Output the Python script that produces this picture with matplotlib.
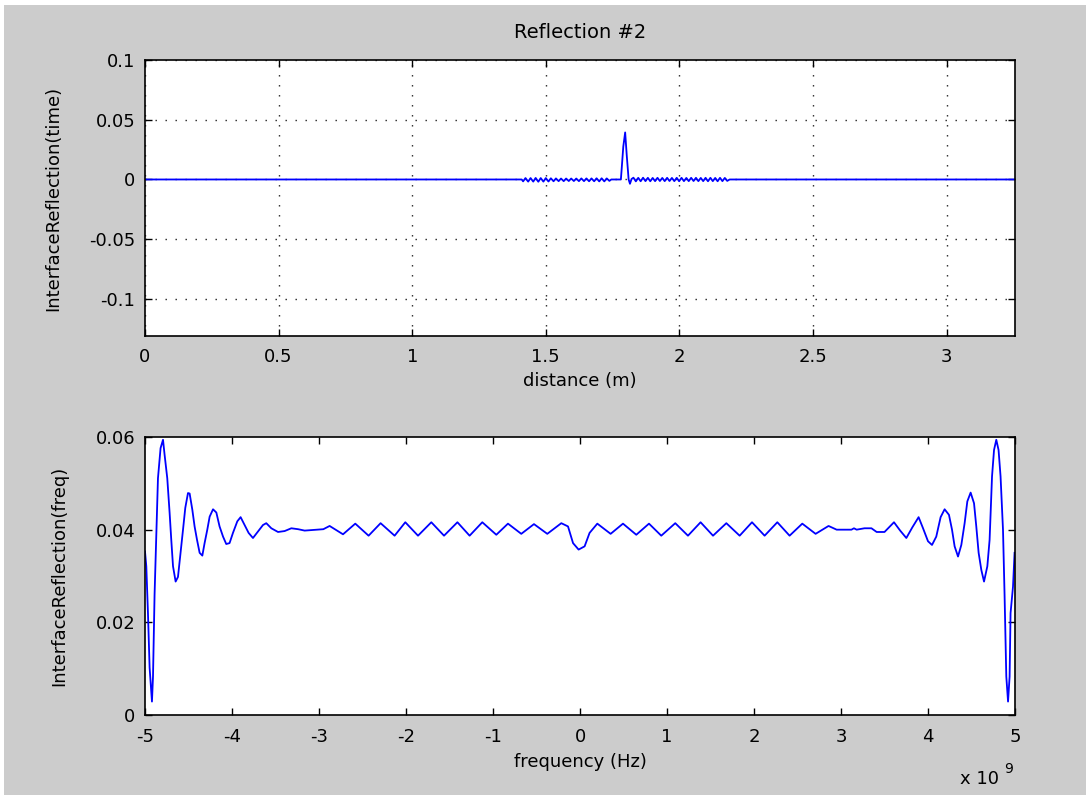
import matplotlib.pyplot as plt
from matplotlib.patches import Rectangle
from matplotlib.ticker import FixedLocator, FixedFormatter

plt.rcParams["font.family"] = "DejaVu Sans"
plt.rcParams["axes.unicode_minus"] = False

# =========================
# time-domain reflection (distance in m)
# =========================
flat_start = [0.000, 1.410]

osc_left_dist = [1.415, 1.424, 1.434, 1.443, 1.453, 1.462, 1.472, 1.481, 1.491,
                 1.500, 1.510, 1.519, 1.529, 1.538, 1.548, 1.557, 1.567, 1.576,
                 1.586, 1.595, 1.605, 1.614, 1.624, 1.633, 1.643, 1.652, 1.662,
                 1.671, 1.681, 1.690, 1.700, 1.709, 1.719, 1.728, 1.738, 1.745]
osc_left_refl = [-0.0016, 0.0012, -0.0018, 0.0012, -0.0018, 0.0013, -0.0019,
                 0.0012, -0.0018, 0.0012, -0.0017, 0.0010, -0.0015, 0.0009,
                 -0.0014, 0.0008, -0.0014, 0.0008, -0.0013, 0.0008, -0.0013,
                 0.0008, -0.0014, 0.0009, -0.0014, 0.0009, -0.0015, 0.0009,
                 -0.0015, 0.0010, -0.0016, 0.0010, -0.0016, 0.0009, -0.0012,
                 0.0]

spike_dist = [1.781, 1.784, 1.790, 1.797, 1.803, 1.810, 1.815, 1.821]
spike_refl = [0.0, 0.0089, 0.0275, 0.0394, 0.0200, 0.0, -0.0036, 0.0004]

osc_right_dist = [1.828, 1.837, 1.846, 1.855, 1.864, 1.873, 1.882, 1.891, 1.900,
                  1.909, 1.918, 1.927, 1.936, 1.945, 1.954, 1.963, 1.972, 1.981,
                  1.990, 1.999, 2.008, 2.017, 2.026, 2.035, 2.044, 2.053, 2.062,
                  2.071, 2.080, 2.089, 2.098, 2.107, 2.116, 2.125, 2.134, 2.143,
                  2.152, 2.161, 2.170, 2.179, 2.188]
osc_right_refl = [0.0015, -0.0016, 0.0014, -0.0015, 0.0015, -0.0014, 0.0014,
                  -0.0015, 0.0013, -0.0014, 0.0014, -0.0013, 0.0013, -0.0014,
                  0.0014, -0.0013, 0.0013, -0.0014, 0.0014, -0.0015, 0.0014,
                  -0.0014, 0.0013, -0.0014, 0.0014, -0.0013, 0.0014, -0.0014,
                  0.0013, -0.0014, 0.0014, -0.0015, 0.0014, -0.0014, 0.0013,
                  -0.0015, 0.0014, -0.0014, 0.0013, -0.0012, 0.0]

flat_end = [2.188, 3.256]

time_dist = flat_start + osc_left_dist + spike_dist + osc_right_dist + flat_end
time_refl = [0.0, 0.0] + osc_left_refl + spike_refl + osc_right_refl + [0.0, 0.0]

# =========================
# spectrum magnitude (frequency in units of 1e9 Hz)
# =========================
freq = [-5.000, -4.985, -4.966, -4.947, -4.920, -4.908, -4.890, -4.870, -4.851,
        -4.821, -4.793, -4.775, -4.744, -4.717, -4.698, -4.678, -4.648, -4.621,
        -4.591, -4.563, -4.537, -4.506, -4.487, -4.456, -4.430, -4.402, -4.372,
        -4.341, -4.315, -4.284, -4.257, -4.218, -4.180, -4.143, -4.103, -4.066,
        -4.028, -3.989, -3.939, -3.901, -3.855, -3.809, -3.759, -3.701, -3.644,
        -3.606, -3.548, -3.471, -3.395, -3.318, -3.240, -3.165, -3.030, -2.950,
        -2.878, -2.724, -2.583, -2.430, -2.292, -2.131, -2.008, -1.862, -1.709,
        -1.563, -1.409, -1.269, -1.123, -0.962, -0.828, -0.675, -0.529, -0.376,
        -0.215, -0.138, -0.080, -0.016, 0.053, 0.110, 0.199, 0.352, 0.494,
        0.647, 0.793, 0.934, 1.095, 1.241, 1.386, 1.529, 1.682, 1.835, 1.977,
        2.122, 2.268, 2.409, 2.555, 2.708, 2.857, 2.950, 3.120, 3.149, 3.180,
        3.270, 3.350, 3.410, 3.500, 3.609, 3.680, 3.751, 3.820, 3.892, 3.943,
        4.000, 4.046, 4.095, 4.145, 4.191, 4.241, 4.276, 4.306, 4.345, 4.383,
        4.421, 4.452, 4.490, 4.529, 4.555, 4.582, 4.613, 4.644, 4.682, 4.708,
        4.736, 4.759, 4.785, 4.811, 4.834, 4.862, 4.880, 4.900, 4.920, 4.938,
        4.949, 4.977, 4.995]
mag = [0.0353, 0.0321, 0.0220, 0.0102, 0.0029, 0.0083, 0.0260, 0.0389, 0.0511,
       0.0576, 0.0594, 0.0562, 0.0511, 0.0436, 0.0378, 0.0321, 0.0288, 0.0298,
       0.0350, 0.0400, 0.0447, 0.0479, 0.0478, 0.0443, 0.0407, 0.0378, 0.0350,
       0.0344, 0.0371, 0.0400, 0.0428, 0.0444, 0.0437, 0.0407, 0.0385, 0.0369,
       0.0371, 0.0393, 0.0418, 0.0427, 0.0410, 0.0393, 0.0382, 0.0396, 0.0410,
       0.0414, 0.0403, 0.0395, 0.0397, 0.0403, 0.0401, 0.0398, 0.0400, 0.0401,
       0.0408, 0.0390, 0.0413, 0.0387, 0.0414, 0.0387, 0.0416, 0.0387, 0.0416,
       0.0387, 0.0416, 0.0387, 0.0416, 0.0389, 0.0413, 0.0391, 0.0412, 0.0391,
       0.0414, 0.0407, 0.0371, 0.0357, 0.0364, 0.0393, 0.0413, 0.0391, 0.0413,
       0.0389, 0.0413, 0.0387, 0.0414, 0.0387, 0.0416, 0.0387, 0.0414, 0.0387,
       0.0416, 0.0387, 0.0416, 0.0387, 0.0413, 0.0391, 0.0408, 0.0400, 0.0400,
       0.0403, 0.0400, 0.0403, 0.0403, 0.0395, 0.0395, 0.0416, 0.0398, 0.0382,
       0.0405, 0.0427, 0.0403, 0.0375, 0.0367, 0.0385, 0.0427, 0.0444, 0.0432,
       0.0400, 0.0364, 0.0342, 0.0367, 0.0414, 0.0461, 0.0480, 0.0457, 0.0407,
       0.0350, 0.0313, 0.0288, 0.0321, 0.0378, 0.0515, 0.0572, 0.0594, 0.0572,
       0.0515, 0.0400, 0.0260, 0.0083, 0.0029, 0.0083, 0.0220, 0.0277, 0.0350]

dist_ticks = [0, 0.5, 1, 1.5, 2, 2.5, 3]
dist_labels = ["0", "0.5", "1", "1.5", "2", "2.5", "3"]
time_ticks = [-0.1, -0.05, 0, 0.05, 0.1]
time_labels = ["-0.1", "-0.05", "0", "0.05", "0.1"]
freq_ticks = [-5, -4, -3, -2, -1, 0, 1, 2, 3, 4, 5]
freq_labels = ["-5", "-4", "-3", "-2", "-1", "0", "1", "2", "3", "4", "5"]
mag_ticks = [0, 0.02, 0.04, 0.06]
mag_labels = ["0", "0.02", "0.04", "0.06"]

W, H = 1086, 795
fig = plt.figure(figsize=(W / 100, H / 100), dpi=100, facecolor="white")
fig.patches.append(Rectangle((4 / W, 0), 1 - 4 / W, 1 - 5 / H,
                             transform=fig.transFigure, facecolor="#cccccc",
                             edgecolor="none", zorder=-10))

FS = 13


def style_axes(ax, xt, xl, yt, yl):
    ax.xaxis.set_major_locator(FixedLocator(xt))
    ax.xaxis.set_major_formatter(FixedFormatter(xl))
    ax.yaxis.set_major_locator(FixedLocator(yt))
    ax.yaxis.set_major_formatter(FixedFormatter(yl))
    ax.tick_params(direction="in", length=5, width=1, top=True, right=True,
                   labelsize=FS, colors="black")
    ax.tick_params(axis="x", pad=9)
    ax.tick_params(axis="y", pad=7)
    for s in ax.spines.values():
        s.set_linewidth(1.2)
        s.set_color("black")


# top: reflection vs distance
ax1 = fig.add_axes([145 / W, 1 - 336 / H, 870 / W, 276 / H])
ax1.plot(time_dist, time_refl, color="#0000ff", lw=1.3)
ax1.set_xlim(0, 3.256)
ax1.set_ylim(-0.131, 0.1)
style_axes(ax1, dist_ticks, dist_labels, time_ticks, time_labels)
ax1.grid(True, color="#222222", linestyle=(0, (1, 6.2)), linewidth=1.0)
ax1.set_title("Reflection #2", fontsize=FS + 1, pad=16)
ax1.set_xlabel("distance (m)", fontsize=FS)
ax1.set_ylabel("InterfaceReflection(time)", fontsize=FS)
ax1.xaxis.set_label_coords(0.5, -0.163)
ax1.xaxis.label.set_va("center")
ax1.yaxis.set_label_coords(-0.105, 0.5)
ax1.yaxis.label.set_va("center")

# bottom: spectrum magnitude
ax2 = fig.add_axes([145 / W, 1 - 715 / H, 870 / W, 278 / H])
ax2.plot(freq, mag, color="#0000ff", lw=1.3)
ax2.set_xlim(-5, 5)
ax2.set_ylim(0, 0.06)
style_axes(ax2, freq_ticks, freq_labels, mag_ticks, mag_labels)
ax2.set_xlabel("frequency (Hz)", fontsize=FS)
ax2.set_ylabel("InterfaceReflection(freq)", fontsize=FS)
ax2.xaxis.set_label_coords(0.5, -0.169)
ax2.xaxis.label.set_va("center")
ax2.yaxis.set_label_coords(-0.098, 0.5)
ax2.yaxis.label.set_va("center")

# exponent of the frequency axis
fig.text(960 / W, 1 - 784 / H, "x 10", fontsize=FS, va="baseline", ha="left")
fig.text(1004 / W, 1 - 773 / H, "9", fontsize=FS - 3, va="baseline", ha="left")

plt.savefig("out.png", dpi=100)
plt.close()
